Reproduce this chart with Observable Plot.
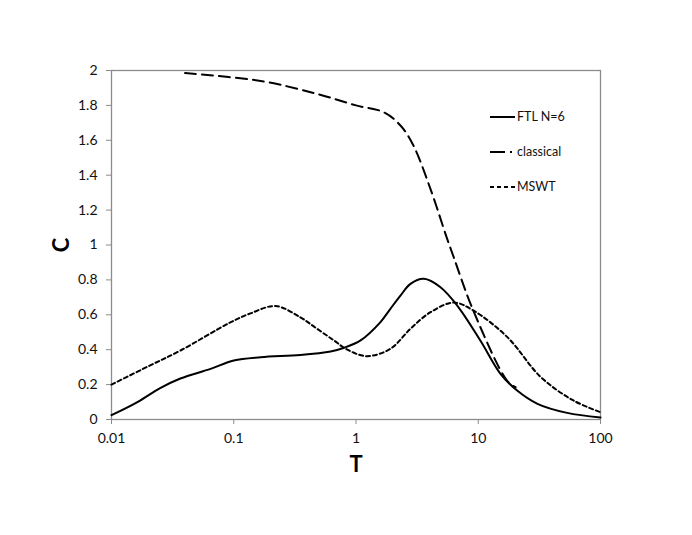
<!DOCTYPE html>
<html>
<head>
<meta charset="utf-8">
<script src="https://cdn.jsdelivr.net/npm/d3@7"></script>
<script src="https://cdn.jsdelivr.net/npm/@observablehq/plot@0.6"></script>
<style>
  html, body { margin: 0; padding: 0; background: #fff; }
  #wrap { position: relative; width: 692px; height: 535px; font-family: Lato, "Open Sans", sans-serif; }
  #legend { position: absolute; left: 490px; top: 108px; font-size: 12.5px; color: #111; }
  #legend .item { position: absolute; left: 0; height: 18px; white-space: nowrap; }
  #legend svg { position: absolute; left: 0; top: 0; }
  #legend span { position: absolute; left: 27px; top: 0; line-height: 18px; }
</style>
</head>
<body>
<div id="wrap"></div>
<script>
// ---- data ----
const ftlT = [0.01, 0.0163, 0.025, 0.0366, 0.0646, 0.1, 0.166, 0.35, 0.62, 0.79, 1.09, 1.585, 1.91, 2.31, 2.79, 3.59, 4.91, 6.73, 10.4, 15.2, 20.8, 30.5, 53.4, 100];
const ftlC = [0.025, 0.1, 0.18, 0.235, 0.29, 0.338, 0.357, 0.37, 0.39, 0.41, 0.453, 0.558, 0.634, 0.71, 0.777, 0.806, 0.758, 0.653, 0.453, 0.262, 0.166, 0.09, 0.038, 0.012];

const classicalT = [0.04, 0.166, 0.48, 1.0, 1.68, 2.31, 2.95, 4.07, 5.57, 6.3, 9.1, 17.3, 20.2];
const classicalC = [1.985, 1.94, 1.866, 1.80, 1.761, 1.685, 1.57, 1.32, 1.035, 0.93, 0.625, 0.22, 0.185];

const mswtT = [0.01, 0.02, 0.0366, 0.093, 0.137, 0.22, 0.35, 0.48, 0.66, 0.85, 1.23, 1.91, 2.79, 4.07, 6.3, 9.1, 17.3, 32.5, 60, 100];
const mswtC = [0.2, 0.305, 0.395, 0.555, 0.608, 0.65, 0.586, 0.52, 0.453, 0.40, 0.363, 0.405, 0.52, 0.615, 0.67, 0.625, 0.472, 0.243, 0.109, 0.042];

const xTicks = [0.01, 0.1, 1, 10, 100];
const xTickLabels = ["0.01", "0.1", "1", "10", "100"];
const yTicks = [0, 0.2, 0.4, 0.6, 0.8, 1, 1.2, 1.4, 1.6, 1.8, 2];
const yTickLabels = ["0", "0.2", "0.4", "0.6", "0.8", "1", "1.2", "1.4", "1.6", "1.8", "2"];

const seriesNames = ["FTL N=6", "classical", "MSWT"];
const seriesDash = [null, "11,6", "4,3"];
const legendDash = [null, "15,5,2,20", "4,3"];

// ---- build ----
const toRows = (T, C) => T.map((t, i) => ({T: t, C: C[i]}));
const ftl = toRows(ftlT, ftlC);
const classical = toRows(classicalT, classicalC);
const mswt = toRows(mswtT, mswtC);

const chart = Plot.plot({
  width: 692,
  height: 535,
  marginLeft: 111,
  marginRight: 92,
  marginTop: 70,
  marginBottom: 116,
  style: {fontFamily: "Lato, 'Open Sans', sans-serif", background: "#fff", color: "#111"},
  x: {type: "log", domain: [0.01, 100]},
  y: {domain: [0, 2]},
  marks: [
    Plot.frame({stroke: "#8c8c8c", strokeWidth: 1.3}),
    Plot.axisX({ticks: xTicks, tickFormat: d => xTickLabels[xTicks.indexOf(d)], tickSize: 5, tickPadding: 9, stroke: "#8c8c8c", fill: "#111", fontSize: 14, label: null}),
    Plot.axisY({ticks: yTicks, tickFormat: d => yTickLabels[yTicks.findIndex(v => Math.abs(v - d) < 1e-9)], tickSize: 5, tickPadding: 9, stroke: "#8c8c8c", fill: "#111", fontSize: 14, label: null}),
    Plot.line(ftl, {x: "T", y: "C", curve: "catmull-rom", stroke: "#000", strokeWidth: 2}),
    Plot.line(classical, {x: "T", y: "C", curve: "catmull-rom", stroke: "#000", strokeWidth: 2, strokeDasharray: seriesDash[1]}),
    Plot.line(mswt, {x: "T", y: "C", curve: "catmull-rom", stroke: "#000", strokeWidth: 2, strokeDasharray: seriesDash[2]}),
    Plot.text(["T"], {frameAnchor: "bottom", dy: 45, lineAnchor: "middle", textAnchor: "middle", fontSize: 22, fontWeight: "bold", fill: "#000"}),
    Plot.text(["C"], {frameAnchor: "left", dx: -50, rotate: -90, lineAnchor: "middle", textAnchor: "middle", fontSize: 22, fontWeight: "bold", fill: "#000"})
  ]
});

const wrap = document.getElementById("wrap");
wrap.appendChild(chart);

// legend
const legend = document.createElement("div");
legend.id = "legend";
seriesNames.forEach((name, i) => {
  const item = document.createElement("div");
  item.className = "item";
  item.style.top = (i * 35) + "px";
  const dash = legendDash[i] ? ` stroke-dasharray="${legendDash[i]}"` : "";
  item.innerHTML = `<svg width="26" height="18"><line x1="0" x2="25" y1="9" y2="9" stroke="#000" stroke-width="2"${dash}/></svg><span>${name}</span>`;
  legend.appendChild(item);
});
wrap.appendChild(legend);
</script>
</body>
</html>
